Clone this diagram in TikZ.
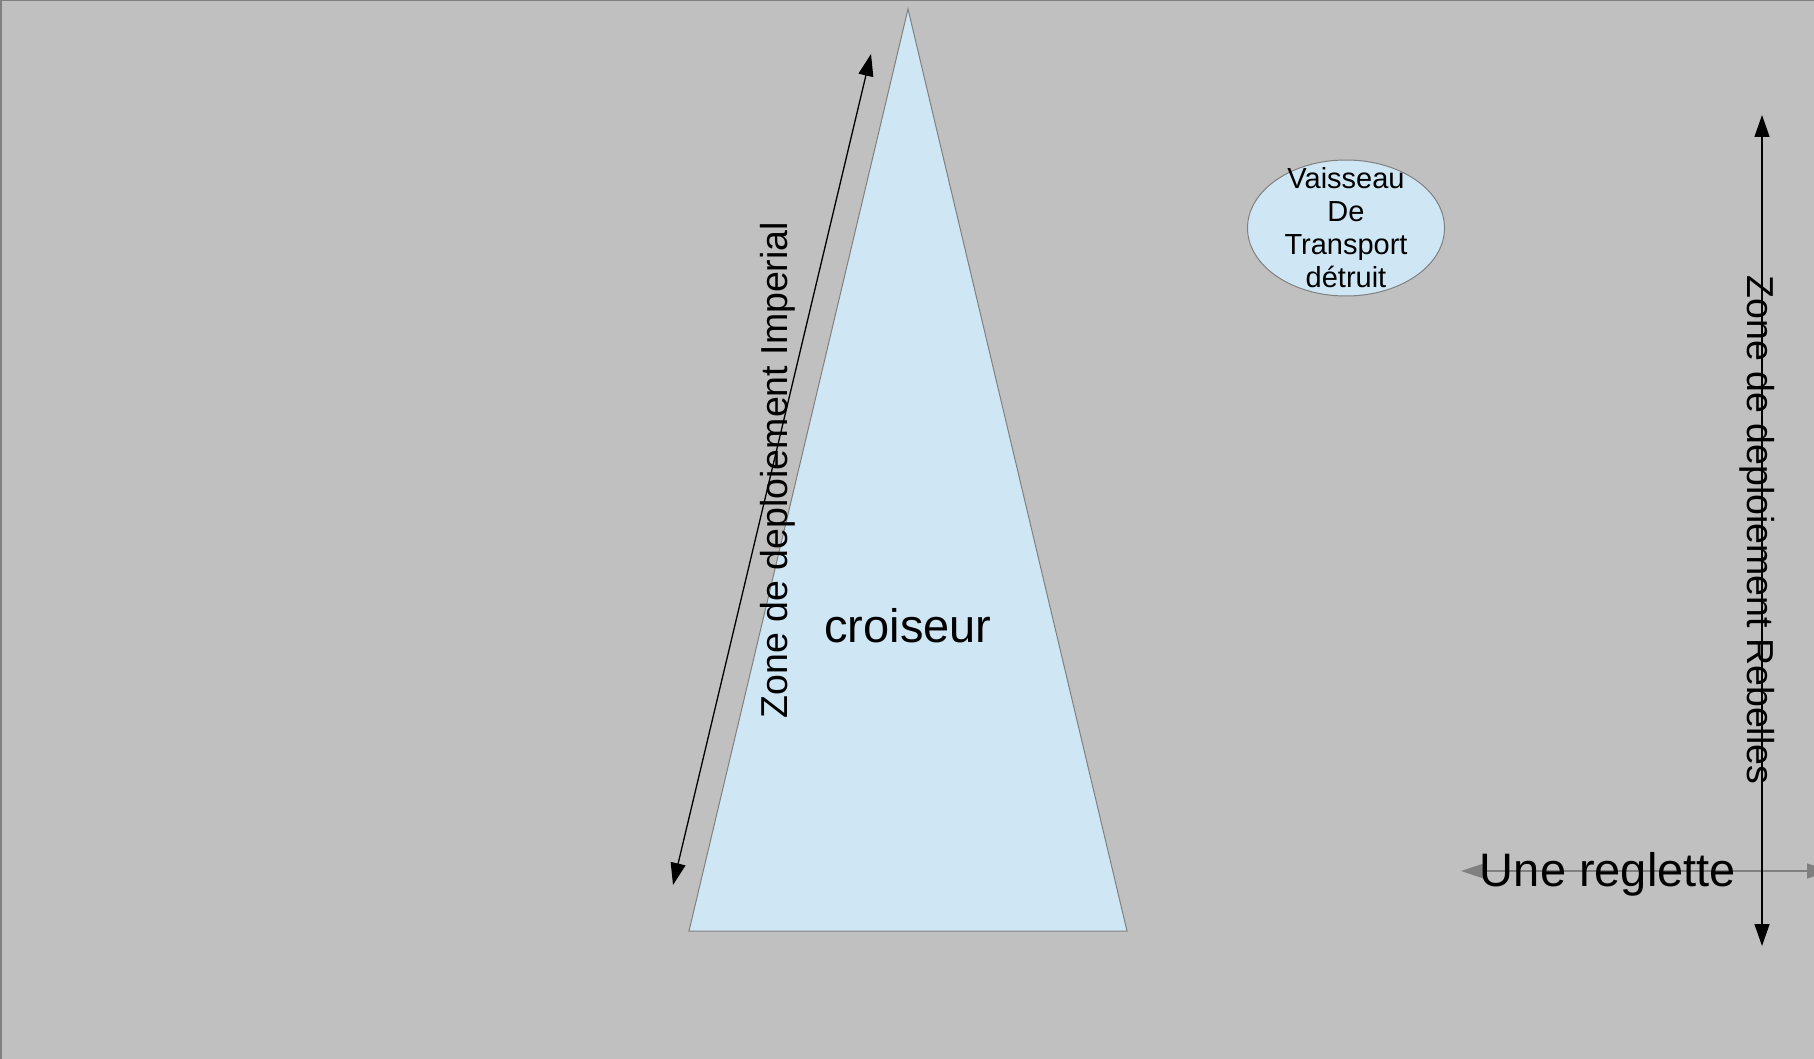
\documentclass[tikz,border=0pt]{standalone}
\usepackage{fontspec}
\setmainfont{Liberation Sans}
\usetikzlibrary{arrows.meta,shapes.geometric}
\definecolor{shipblue}{HTML}{CFE7F5}
\definecolor{edgegray}{HTML}{808080}
\definecolor{tablegray}{HTML}{C0C0C0}
\pgfkeys{tikz/shipshape/.style={fill=shipblue,draw=edgegray,line width=1pt}}
\pgfkeys{tikz/zonearrow/.style={draw=black,line width=1.3pt,{Triangle[length=22pt,width=15pt]}-{Triangle[length=22pt,width=15pt]}}}
\newcommand*\pxfont[2]{\fontsize{#1}{#2}\selectfont}

\begin{document}
\begin{tikzpicture}[x=1pt,y=-1pt]
\fill[tablegray] (0,0) rectangle (1814,1059);
\useasboundingbox (0,0) rectangle (1814,1059);
\clip (0,0) rectangle (1814,1059);
\draw[edgegray,line width=1.5pt] (0.75,1059) -- (0.75,0.75) -- (1814,0.75);

% croiseur
\coordinate (apex) at (908,9);
\coordinate (base left) at (689,931);
\coordinate (base right) at (1127,931);
\draw[shipshape] (apex) -- (base right) -- (base left) -- cycle;
\node[anchor=base,font=\pxfont{47}{56}] (croiseur) at (908,642) {croiseur};

% vaisseau
\node[shipshape,ellipse,minimum width=197pt,minimum height=136pt,inner xsep=0pt,inner ysep=-20pt,align=center,font=\pxfont{29}{33}] (transport) at (1346,228) {Vaisseau\\De\\Transport\\détruit};

% reglette
\coordinate (reg left) at (1461,871);
\coordinate (reg right) at (1830,871);
\draw[edgegray,line width=1.3pt,{Triangle[length=23pt,width=15pt]}-{Triangle[length=23pt,width=15pt]}] (reg left) -- (reg right);
\node[anchor=base,font=\pxfont{47}{56}] (reglette) at (1608,886) {Une reglette};

% zones de deploiement
\coordinate (imp top) at (871,54);
\coordinate (imp bottom) at (673,885);
\draw[zonearrow] (imp bottom) -- (imp top);
\node[anchor=base,rotate=90,font=\pxfont{37.5}{45}] (imp label) at (787,470) {Zone de deploiement Imperial};

\coordinate (reb top) at (1762,115);
\coordinate (reb bottom) at (1762,946);
\draw[zonearrow] (reb top) -- (reb bottom);
\node[anchor=base,rotate=-90,font=\pxfont{37.5}{45}] (reb label) at (1747,530) {Zone de deploiement Rebelles};

\end{tikzpicture}
\end{document}
